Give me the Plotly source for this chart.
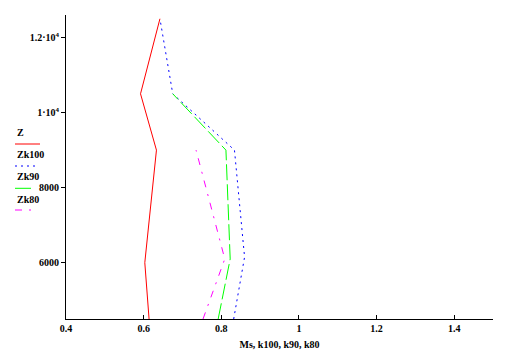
import plotly.graph_objects as go

# Data (Z heights vs Ms, k100, k90, k80)
z_ms = [4500, 6000, 9000, 10500, 12500]
ms = [0.614, 0.603, 0.633, 0.592, 0.642]

z_k100 = [4500, 6150, 9000, 10500, 12500]
k100 = [0.832, 0.860, 0.834, 0.675, 0.642]

z_k90 = [4500, 6100, 9000, 10500]
k90 = [0.792, 0.823, 0.812, 0.675]

z_k80 = [4500, 6100, 9000]
k80 = [0.753, 0.809, 0.735]

x_ticks = [0.4, 0.6, 0.8, 1.0, 1.2, 1.4]
x_tick_text = ["0.4", "0.6", "0.8", "1", "1.2", "1.4"]
y_ticks = [6000, 8000, 10000, 12000]
y_tick_text = ["6000", "8000", "1·10<sup>4</sup>", "1.2·10<sup>4</sup>"]

legend_labels = ["Z", "Zk100", "Zk90", "Zk80"]
colors = ["#FF0000", "#0000FF", "#00FF00", "#FF00FF"]
dashes = ["solid", "2px,4px", "16px,4px", "7px,7px,2px,7px"]

FONT = dict(family="Liberation Serif, Times New Roman, serif", size=10, color="black", weight="bold")

fig = go.Figure()
series = [(ms, z_ms), (k100, z_k100), (k90, z_k90), (k80, z_k80)]
for (xs, ys), c, d in zip(series, colors, dashes):
    fig.add_trace(go.Scatter(x=xs, y=ys, mode="lines",
                             line=dict(color=c, width=1, dash=d),
                             showlegend=False, hoverinfo="skip"))

W, H = 520, 351
L, R, T, B = 66, 27, 15, 32
pw, ph = W - L - R, H - T - B

def px(x):
    return (x - L) / pw

def py(y):
    return (H - B - y) / ph

# Manual legend (text above line samples, like the original)
text_y = [132.7, 154.3, 176.7, 199]
line_y = [144, 166, 188.3, 210]
line_end = [40, 36, 32, 32]
annotations = []
shapes = []
for lab, ty, ly, le, c, d in zip(legend_labels, text_y, line_y, line_end, colors, dashes):
    annotations.append(dict(text=lab, x=px(15), y=py(ty), xref="paper", yref="paper",
                            xanchor="left", yanchor="middle", showarrow=False, font=FONT))
    shapes.append(dict(type="line", xref="paper", yref="paper",
                       x0=px(15), x1=px(le), y0=py(ly), y1=py(ly),
                       line=dict(color=c, width=1, dash=d)))

fig.update_layout(
    width=W, height=H,
    margin=dict(l=L, r=R, t=T, b=B, pad=0, autoexpand=False),
    paper_bgcolor="white", plot_bgcolor="white",
    font=FONT,
    annotations=annotations,
    shapes=shapes,
    xaxis=dict(range=[0.4, 1.5], tickvals=x_ticks, ticktext=x_tick_text,
               ticks="inside", ticklen=4, tickwidth=1, tickcolor="black",
               showline=True, linecolor="black", linewidth=1, automargin=False,
               showgrid=False, zeroline=False, tickfont=FONT,
               title=dict(text="Ms, k100, k90, k80", font=FONT, standoff=7)),
    yaxis=dict(range=[4500, 12600], tickvals=y_ticks, ticktext=y_tick_text,
               ticks="outside", ticklen=4, tickwidth=1, tickcolor="black",
               showline=True, linecolor="black", linewidth=1, automargin=False,
               showgrid=False, zeroline=False, tickfont=FONT),
)

fig.write_html("out.html")
